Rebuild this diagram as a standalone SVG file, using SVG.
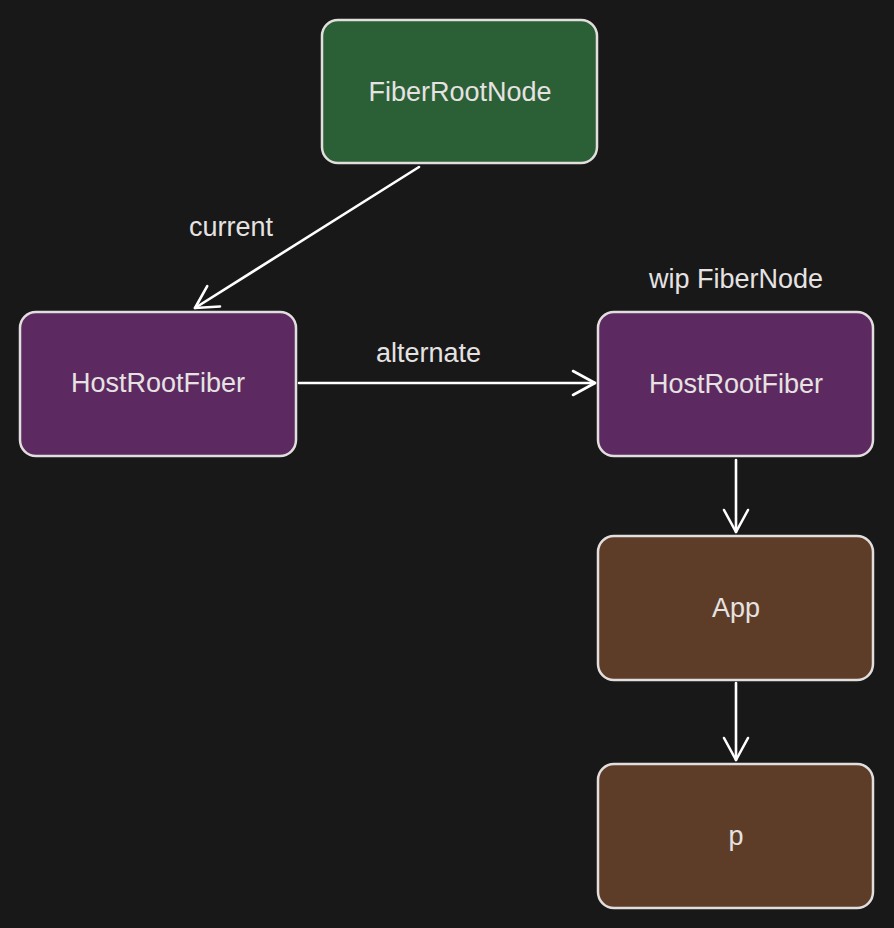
<svg xmlns="http://www.w3.org/2000/svg" width="894" height="928" viewBox="0 0 894 928">
<style>
.box{stroke:#e2dede;stroke-width:2.5}
.g{fill:#2b5f36}
.pu{fill:#5c2a60}
.br{fill:#5e3d28}
.t{font-family:"Liberation Sans",Arial,sans-serif;font-size:27px;fill:#e6e2e2;text-anchor:middle}
.c{stroke:#ffffff;stroke-width:2.6;fill:none;stroke-linecap:round;stroke-linejoin:round}
</style>
<defs>
<marker id="ah" markerUnits="userSpaceOnUse" viewBox="-26 -16 30 32" refX="0" refY="0" markerWidth="30" markerHeight="32" orient="auto" overflow="visible">
<path d="M-22,-12 L0,0 L-22,12" fill="none" stroke="#ffffff" stroke-width="2.6" stroke-linecap="round" stroke-linejoin="round"/>
</marker>
</defs>
<rect width="894" height="928" fill="#181818"/>
<g id="connectors">
<path id="e-current" class="c" d="M419,167 L195,308" marker-end="url(#ah)"/>
<path id="e-alternate" class="c" d="M299,383 L595,383" marker-end="url(#ah)"/>
<path id="e-app" class="c" d="M736,460 L736,532" marker-end="url(#ah)"/>
<path id="e-p" class="c" d="M736,683 L736,760" marker-end="url(#ah)"/>
<text class="t" x="231" y="236">current</text>
<text class="t" x="428.5" y="362">alternate</text>
</g>
<g id="fiberRootNode">
<rect class="box g" x="322" y="20" width="275" height="143" rx="16"/>
<text class="t" x="460" y="101">FiberRootNode</text>
</g>
<g id="hostRootFiber-current">
<rect class="box pu" x="20" y="312" width="276" height="144" rx="16"/>
<text class="t" x="158" y="392">HostRootFiber</text>
</g>
<g id="hostRootFiber-wip">
<text class="t" x="736" y="288">wip FiberNode</text>
<rect class="box pu" x="598" y="312" width="275" height="144" rx="16"/>
<text class="t" x="736" y="393">HostRootFiber</text>
</g>
<g id="app">
<rect class="box br" x="598" y="536" width="275" height="144" rx="16"/>
<text class="t" x="736" y="617">App</text>
</g>
<g id="p">
<rect class="box br" x="598" y="764" width="275" height="144" rx="16"/>
<text class="t" x="736" y="845">p</text>
</g>
</svg>
